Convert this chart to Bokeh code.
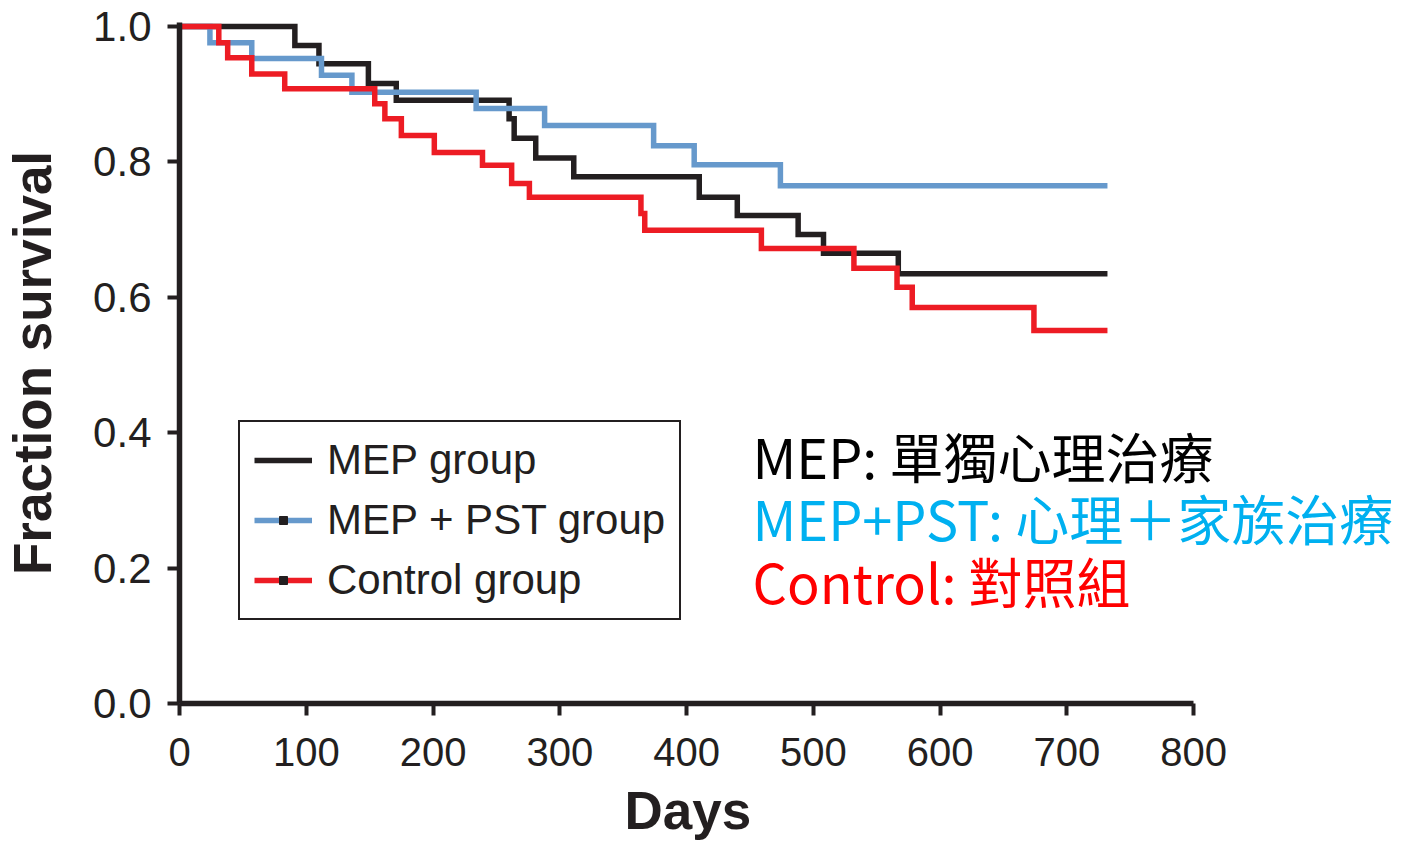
from bokeh.plotting import figure
from bokeh.models import Range1d, Legend, LegendItem, Label, FixedTicker, PrintfTickFormatter, ColumnDataSource, Title
from bokeh.embed import file_html
from bokeh.resources import INLINE

# ---- data ----
mep_days = [0, 91, 110, 149, 171, 260, 264, 281, 311, 410, 440, 488, 508, 567, 732]
mep_surv = [1.0, 0.972, 0.945, 0.916, 0.891, 0.864, 0.835, 0.806, 0.778, 0.748, 0.721, 0.693, 0.665, 0.635, 0.635]

pst_days = [0, 24, 57, 112, 136, 234, 288, 374, 406, 474, 732]
pst_surv = [1.0, 0.976, 0.953, 0.928, 0.903, 0.879, 0.854, 0.824, 0.796, 0.765, 0.765]

ctl_days = [0, 31, 38, 57, 83, 154, 162, 175, 201, 239, 262, 276, 364, 367, 459, 532, 566, 578, 674, 732]
ctl_surv = [1.0, 0.976, 0.954, 0.930, 0.908, 0.886, 0.864, 0.839, 0.814, 0.795, 0.768, 0.748, 0.724, 0.699,
            0.672, 0.643, 0.615, 0.585, 0.551, 0.551]

x_ticks = [0, 100, 200, 300, 400, 500, 600, 700, 800]
y_ticks = [0.0, 0.2, 0.4, 0.6, 0.8, 1.0]

legend_labels = ["MEP group", "MEP + PST group", "Control group"]
notes = ["MEP: 單獨心理治療", "MEP+PST: 心理＋家族治療", "Control: 對照組"]
x_title = "Days"
y_title = "Fraction survival"

# ---- styling / layout ----
C_BLACK = "#231f20"
C_BLUE = "#6699cc"
C_RED = "#ed1c24"
NOTE_COLORS = ["#000000", "#00b0f0", "#ff0000"]
FONT = "Liberation Sans"
CJK = "Noto Sans CJK TC"

W, H = 1400, 850
LEFT, TOP, BOTTOM, RIGHT = 178, 22, 147, 2
PX_PER_DAY = (1193 - 178) / 800.0
x_end = (W - LEFT - RIGHT) / PX_PER_DAY

p = figure(width=W, height=H,
           x_range=Range1d(0, x_end), y_range=Range1d(0, 1.006),
           output_backend="svg", toolbar_location=None,
           min_border_left=LEFT, min_border_right=RIGHT,
           min_border_top=TOP, min_border_bottom=BOTTOM)
p.grid.visible = False
p.outline_line_color = None
p.background_fill_color = "white"
p.border_fill_color = "white"

for ax in (p.xaxis[0], p.yaxis[0]):
    ax.axis_line_width = 5.5
    ax.axis_line_color = C_BLACK
    ax.major_tick_line_width = 4
    ax.major_tick_line_color = C_BLACK
    ax.major_tick_out = 12
    ax.major_tick_in = 0
    ax.minor_tick_line_color = None
    ax.major_label_text_font = FONT
    ax.major_label_text_color = C_BLACK
    ax.axis_label_text_font = FONT
    ax.axis_label_text_font_style = "bold"
    ax.axis_label_text_color = C_BLACK
    ax.axis_label_text_font_size = "53px"

p.xaxis.bounds = (0, 800)
p.xaxis.ticker = FixedTicker(ticks=x_ticks)
p.yaxis.ticker = FixedTicker(ticks=y_ticks)
p.yaxis.formatter = PrintfTickFormatter(format="%.1f")
p.xaxis.major_label_text_font_size = "40px"
p.yaxis.major_label_text_font_size = "42px"
p.xaxis.major_label_standoff = 22
p.yaxis.major_label_standoff = 16
p.yaxis.axis_label = y_title
p.yaxis.axis_label_standoff = 28

# x-axis title placed under the 0-800 axis span
p.add_layout(Title(text=x_title, align="left", offset=445, text_font=FONT,
                   text_font_size="53px", text_font_style="bold", text_color=C_BLACK,
                   standoff=20), "below")

series = [
    (mep_days, mep_surv, C_BLACK),
    (pst_days, pst_surv, C_BLUE),
    (ctl_days, ctl_surv, C_RED),
]
items = []
for i, (d, s, c) in enumerate(series):
    src = ColumnDataSource(dict(x=d, y=s))
    r = p.step("x", "y", source=src, mode="after", line_color=c, line_width=5.5, line_join="miter")
    rends = [r]
    if i > 0:
        end = ColumnDataSource(dict(x=d[-1:], y=s[-1:]))
        m = p.scatter("x", "y", source=end, marker="square", size=8,
                      fill_color=C_BLACK, line_color=C_BLACK, muted_alpha=0)
        m.muted = True
        rends.append(m)
    items.append(LegendItem(label=legend_labels[i], renderers=rends))

legend = Legend(items=items, location=(59, 83), orientation="vertical",
                label_text_font=FONT, label_text_font_size="42px", label_text_color=C_BLACK,
                glyph_width=58, glyph_height=20, label_height=46, label_standoff=15,
                spacing=12, padding=14, margin=0,
                border_line_color=C_BLACK, border_line_width=2, border_line_alpha=1.0,
                background_fill_color="white", background_fill_alpha=1.0)
p.add_layout(legend, "center")

note_y = [0.366, 0.275, 0.182]
for t, c, yy in zip(notes, NOTE_COLORS, note_y):
    p.add_layout(Label(x=452, y=yy, text=t, text_color=c, text_font=CJK,
                       text_font_size="54px", text_baseline="alphabetic", text_align="left"))

open("out.html", "w").write(file_html(p, INLINE))
